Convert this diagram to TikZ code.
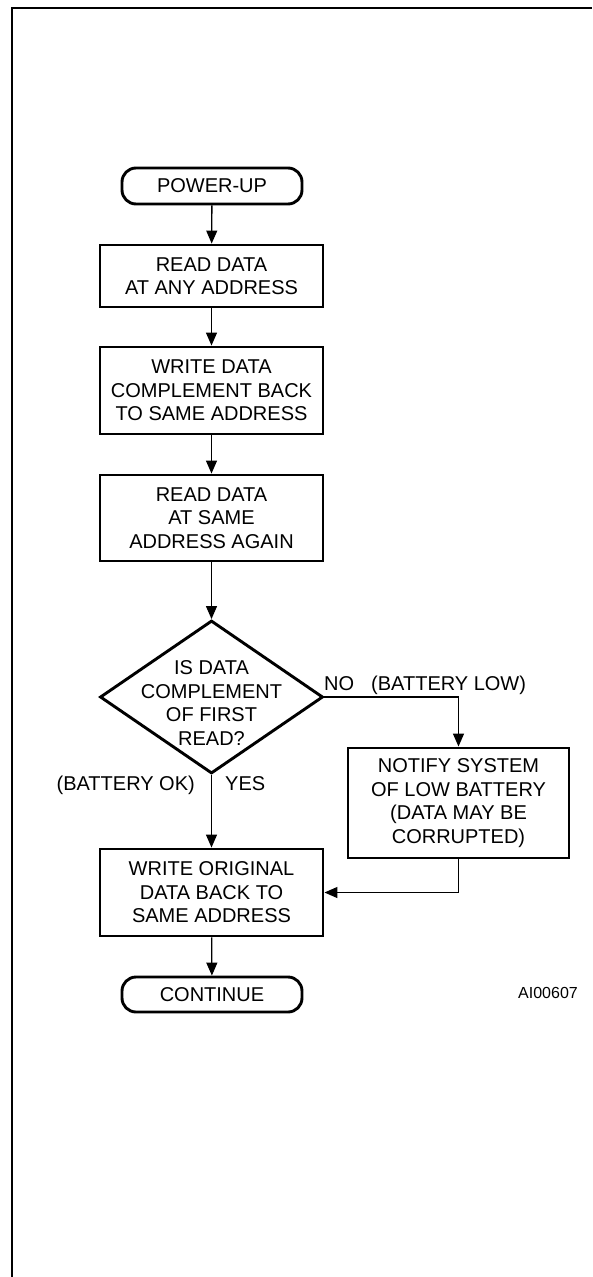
\documentclass[tikz,border=0pt]{standalone}
\usepackage{fontspec}
\setmainfont{Liberation Sans}
\usetikzlibrary{shapes.geometric,arrows.meta}
\begin{document}
\begin{tikzpicture}[x=1pt,y=-1pt,
  txt/.style={font=\fontsize{20}{23.5}\selectfont},
  box/.style={txt, draw, line width=2.9pt, inner sep=0pt, align=center, minimum width=223pt},
  term/.style={txt, draw, line width=2.9pt, rounded corners=14pt, inner sep=0pt, align=center, minimum width=180pt, minimum height=36pt},
  arr/.style={line width=1.3pt, -{Triangle[length=13pt,width=11pt]}},
  lbl/.style={txt, inner sep=0pt}]
\useasboundingbox (0,0) rectangle (592,1277);
\coordinate (fb) at (12,1277);
\coordinate (fc) at (12,7.5);
\coordinate (fr) at (592,7.5);
\draw[line width=2pt] (fb) -- (fc) -- (fr);

\node[term] (pu) at (212,186) {POWER-UP};
\node[box, minimum height=62pt] (rd1) at (211.5,276) {READ DATA\\AT ANY ADDRESS};
\node[box, minimum height=87pt] (wr) at (211.5,390.5) {WRITE DATA\\COMPLEMENT BACK\\TO SAME ADDRESS};
\node[box, minimum height=86pt] (rd2) at (211.5,518) {READ DATA\\AT SAME\\ADDRESS AGAIN};
\node[diamond, draw, line width=2.9pt, minimum width=223pt, minimum height=153pt, inner sep=0pt] (dec) at (211.5,697) {};
\node[txt, align=center, inner sep=0pt] (dect) at (211.5,703) {IS DATA\\COMPLEMENT\\OF FIRST\\READ?};
\node[box, minimum width=221pt, minimum height=110pt] (nt) at (458.5,803) {NOTIFY SYSTEM\\OF LOW BATTERY\\(DATA MAY BE\\CORRUPTED)};
\node[box, minimum height=87pt] (wo) at (211.5,892.5) {WRITE ORIGINAL\\DATA BACK TO\\SAME ADDRESS};
\node[term, minimum height=35pt] (ct) at (212,994.5) {CONTINUE};

\draw[arr] (pu) -- (rd1);
\draw[arr] (rd1) -- (wr);
\draw[arr] (wr) -- (rd2);
\draw[arr] (rd2) -- (dec.north);
\draw[arr] (dec.south) -- (wo);
\draw[arr] (dec.east) -| (nt.north);
\draw[arr] (nt.south) |- (wo.east);
\draw[arr] (wo) -- (ct);

\node[lbl, anchor=base west] (no) at (324,690.5) {NO};
\node[lbl, anchor=base west] (bl) at (371,690.5) {(BATTERY LOW)};
\node[lbl, anchor=base east] (bok) at (195,790.5) {(BATTERY OK)};
\node[lbl, anchor=base west] (yes) at (225,790.5) {YES};
\node[inner sep=0pt, anchor=base east, font=\fontsize{16}{19}\selectfont] (ai) at (578,998) {AI00607};
\end{tikzpicture}
\end{document}
